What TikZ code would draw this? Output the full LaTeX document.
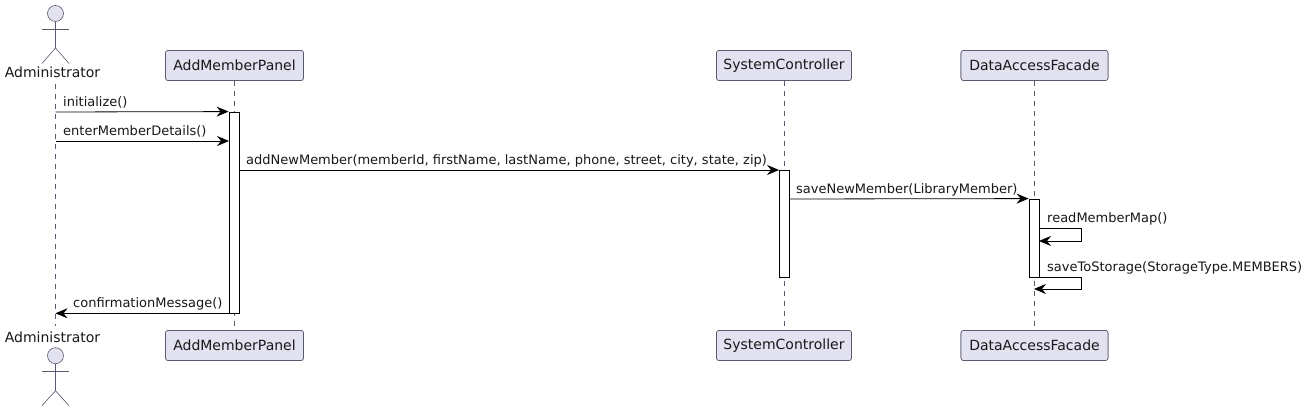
\documentclass[tikz,border=0pt]{standalone}
\usepackage{fontspec}
\setmainfont{DejaVu Sans}
\usetikzlibrary{arrows.meta}
\definecolor{partFill}{RGB}{226,226,240}
\definecolor{partLine}{RGB}{90,90,110}
\definecolor{msgLine}{RGB}{24,24,24}
\tikzset{
  part/.style={draw=partLine,fill=partFill,rounded corners=2.5pt,line width=0.6pt,minimum width=#1,minimum height=30pt,inner sep=0pt,text=msgLine,font=\fontsize{14}{16}\selectfont},
  actorlabel/.style={anchor=base,inner sep=0pt,text=msgLine,font=\fontsize{14}{16}\selectfont},
  msglabel/.style={anchor=base west,inner sep=0pt,text=msgLine,font=\fontsize{13}{15}\selectfont},
  lifeline/.style={draw=partLine,line width=0.5pt,dash pattern=on 5pt off 5pt},
  bar/.style={draw=black,fill=white,line width=0.8pt,minimum width=10pt,minimum height=#1,inner sep=0pt},
  msg/.style={draw=black,line width=0.8pt,-{Stealth[length=12pt,width=10pt,inset=4pt]}},
  stick/.style={draw=partLine,line width=0.6pt},
  head/.style={circle,draw=partLine,fill=partFill,line width=0.6pt,minimum size=16pt,inner sep=0pt}
}
\begin{document}
\begin{tikzpicture}[x=1pt,y=1pt]
\path[use as bounding box,fill=white] (0,0) rectangle (1311,411);

\node[actorlabel] (adTop) at (52.5,333) {Administrator};
\node[actorlabel] (adBot) at (52.5,68) {Administrator};
\node[part=138pt] (apTop) at (234.5,345.5) {AddMemberPanel};
\node[part=138pt] (apBot) at (234.5,65.5) {AddMemberPanel};
\node[part=135pt] (scTop) at (784,345.5) {SystemController};
\node[part=135pt] (scBot) at (784,65.5) {SystemController};
\node[part=147pt] (dfTop) at (1034.5,345.5) {DataAccessFacade};
\node[part=147pt] (dfBot) at (1034.5,65.5) {DataAccessFacade};

\coordinate (adLineTop) at (55.5,327);
\coordinate (adLineBot) at (55.5,85);
\path[lifeline] (adLineTop) -- (adLineBot);
\path[lifeline] (apTop) -- (apBot);
\path[lifeline] (scTop) -- (scBot);
\path[lifeline] (dfTop) -- (dfBot);
\node[part=138pt] at (apTop) {AddMemberPanel};
\node[part=138pt] at (apBot) {AddMemberPanel};
\node[part=135pt] at (scTop) {SystemController};
\node[part=135pt] at (scBot) {SystemController};
\node[part=147pt] at (dfTop) {DataAccessFacade};
\node[part=147pt] at (dfBot) {DataAccessFacade};

\node[head] (adHeadTop) at (55.5,397.5) {};
\path[stick] (adHeadTop.south) -- (55.5,363);
\path[stick] (42,382) -- (69,382);
\path[stick] (42,347.5) -- (55.5,363) -- (69,347.5);
\node[head] (adHeadBot) at (55.5,55.3) {};
\path[stick] (adHeadBot.south) -- (55.5,20.3);
\path[stick] (42,40) -- (69,40);
\path[stick] (42,5.3) -- (55.5,20.3) -- (69,5.3);

\node[bar=201pt] (apBar) at (234,198.5) {};
\node[bar=107pt] (scBar) at (784,187.5) {};
\node[bar=78pt] (dfBar) at (1034,173) {};

\coordinate (initFrom) at (55.5,299);
\coordinate (enterFrom) at (55.5,270);
\coordinate (enterTo) at (229,270);
\coordinate (addFrom) at (239,241);
\coordinate (addTo) at (779,241);
\coordinate (saveFrom) at (789,212);
\coordinate (readFrom) at (1039,183);
\coordinate (readOut) at (1081.5,183);
\coordinate (readBack) at (1081.5,170);
\coordinate (readTo) at (1039,170);
\coordinate (storeFrom) at (1039,134);
\coordinate (storeOut) at (1081.5,134);
\coordinate (storeBack) at (1081.5,122);
\coordinate (storeTo) at (1034,122);
\coordinate (confFrom) at (229,97.7);
\coordinate (confTo) at (55.5,97.7);

\path[msg] (initFrom) -- (apBar.north west);
\path[msg] (enterFrom) -- (enterTo);
\path[msg] (addFrom) -- (addTo);
\path[msg] (saveFrom) -- (dfBar.north west);
\path[msg] (readFrom) -- (readOut) -- (readBack) -- (readTo);
\path[msg] (storeFrom) -- (storeOut) -- (storeBack) -- (storeTo);
\path[msg] (confFrom) -- (confTo);

\node[msglabel] (initLabel) at (63,304) {initialize()};
\node[msglabel] (enterLabel) at (63,275) {enterMemberDetails()};
\node[msglabel] (addLabel) at (246,246) {addNewMember(memberId, firstName, lastName, phone, street, city, state, zip)};
\node[msglabel] (saveLabel) at (796,217) {saveNewMember(LibraryMember)};
\node[msglabel] (readLabel) at (1047,188) {readMemberMap()};
\node[msglabel] (storeLabel) at (1047,139) {saveToStorage(StorageType.MEMBERS)};
\node[msglabel] (confLabel) at (73,103) {confirmationMessage()};
\end{tikzpicture}
\end{document}
